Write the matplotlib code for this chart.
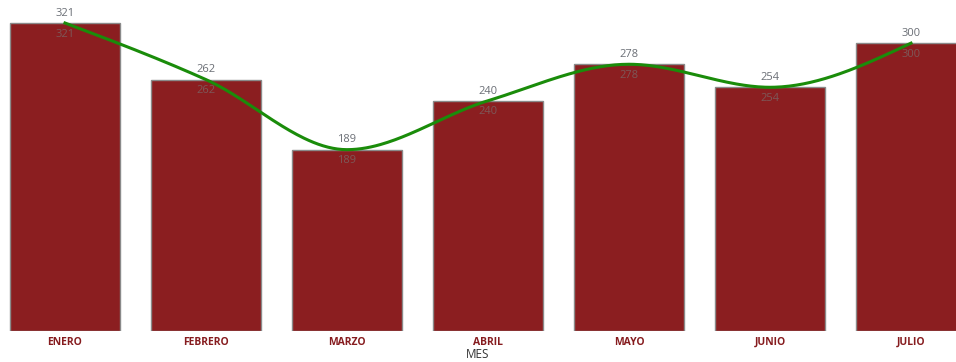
import numpy as np
import matplotlib
matplotlib.use("Agg")
import matplotlib.pyplot as plt

meses = ["ENERO", "FEBRERO", "MARZO", "ABRIL", "MAYO", "JUNIO", "JULIO"]
valores = [321, 262, 189, 240, 278, 254, 300]

plt.rcParams['font.family'] = ['Open Sans', 'DejaVu Sans']

def monotone(x, y, n=60):
    # d3-style monotone cubic interpolation for a smooth drawn line
    x = np.asarray(x, float); y = np.asarray(y, float)
    h = np.diff(x); d = np.diff(y) / h
    m = np.zeros_like(y)
    for i in range(1, len(y) - 1):
        s0, s1 = d[i-1], d[i]
        p = (s0 * h[i] + s1 * h[i-1]) / (h[i-1] + h[i])
        m[i] = (np.sign(s0) + np.sign(s1)) * min(abs(s0), abs(s1), 0.5 * abs(p))
    m[0] = (3 * d[0] - m[1]) / 2
    m[-1] = (3 * d[-1] - m[-2]) / 2
    xs, ys = [], []
    for i in range(len(h)):
        t = np.linspace(0, 1, n)
        h00 = 2*t**3 - 3*t**2 + 1; h10 = t**3 - 2*t**2 + t
        h01 = -2*t**3 + 3*t**2; h11 = t**3 - t**2
        xs.append(x[i] + t*h[i])
        ys.append(h00*y[i] + h10*h[i]*m[i] + h01*y[i+1] + h11*h[i]*m[i+1])
    return np.concatenate(xs), np.concatenate(ys)

fig = plt.figure(figsize=(9.56, 3.62), dpi=100)
ax = fig.add_axes([0, 31/362, 1, 331/362])
x = np.arange(len(meses))
ax.bar(x, valores, width=0.78, color="#8B1E20", edgecolor="#8a8a8a", linewidth=1, zorder=2)
xs, ys = monotone(x, valores)
ax.plot(xs, ys, color="#1a8c0a", linewidth=2.2, zorder=3)
for xi, v in zip(x, valores):
    ax.annotate(str(v), (xi, v), xytext=(0, 3), textcoords="offset points",
                ha="center", va="bottom", fontsize=8, color="#6a6e75", zorder=4)
    ax.annotate(str(v), (xi, v), xytext=(0, -4), textcoords="offset points",
                ha="center", va="top", fontsize=8, color="#7d5858", zorder=4)
ax.set_xlim(-65/141, (956-65)/141)
ax.set_ylim(0, 331/0.9595)
ax.set_xticks(x)
ax.set_xticklabels(meses, fontsize=7.5, fontweight="bold", color="#861c1f")
ax.tick_params(axis="x", length=0, pad=4)
ax.set_yticks([])
for s in ax.spines.values():
    s.set_visible(False)
ax.set_xlabel("MES", fontsize=8.5, color="#333333", labelpad=0)
fig.savefig("out.png", dpi=100)
